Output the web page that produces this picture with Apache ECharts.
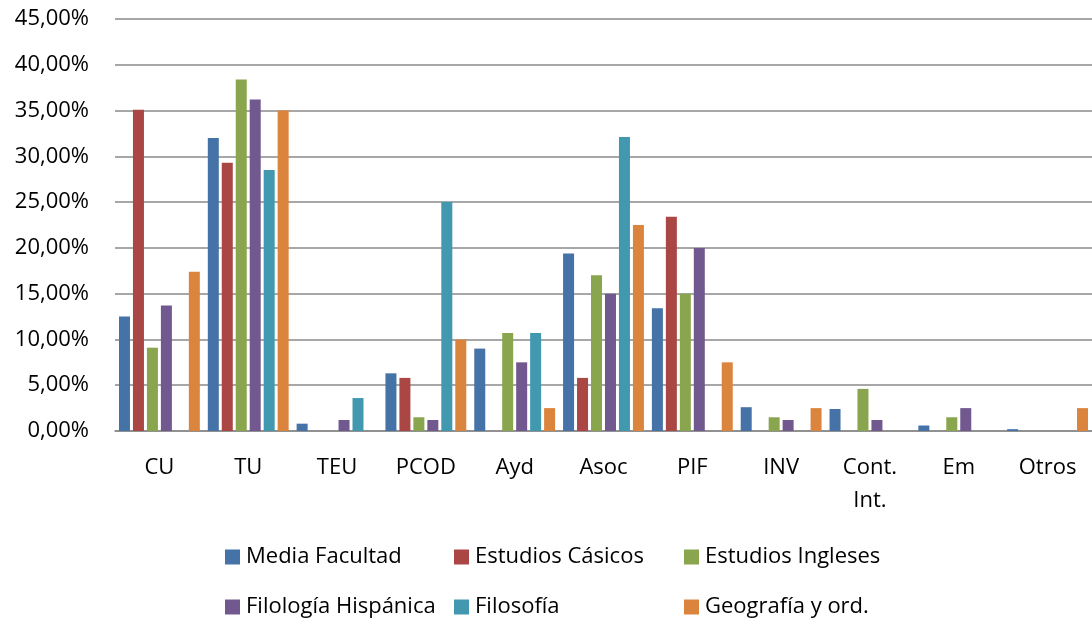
<!DOCTYPE html>
<html>
<head>
<meta charset="utf-8">
<script src="https://cdn.jsdelivr.net/npm/echarts@6/dist/echarts.min.js"></script>
<style>
  html, body { margin: 0; padding: 0; background: #fff; }
  #chart { width: 1092px; height: 619px; }
</style>
</head>
<body>
<div id="chart"></div>
<script>
// categorías del eje X
const categories = ['CU', 'TU', 'TEU', 'PCOD', 'Ayd', 'Asoc', 'PIF', 'INV', 'Cont.\nInt.', 'Em', 'Otros']

// valores en %
const mediaFacultad = [12.5, 32.0, 0.8, 6.3, 9.0, 19.4, 13.4, 2.6, 2.4, 0.6, 0.2]
const estudiosCasicos = [35.1, 29.3, 0, 5.8, 0, 5.8, 23.4, 0, 0, 0, 0]
const estudiosIngleses = [9.1, 38.4, 0, 1.5, 10.7, 17.0, 15.0, 1.5, 4.6, 1.5, 0]
const filologiaHispanica = [13.7, 36.2, 1.2, 1.2, 7.5, 15.0, 20.0, 1.2, 1.2, 2.5, 0]
const filosofia = [0, 28.5, 3.6, 25.0, 10.7, 32.1, 0, 0, 0, 0, 0]
const geografia = [17.4, 35.0, 0, 10.0, 2.5, 22.5, 7.5, 2.5, 0, 0, 2.5]

const seriesNames = ['Media Facultad', 'Estudios Cásicos', 'Estudios Ingleses',
  'Filología Hispánica', 'Filosofía', 'Geografía y ord.']
const seriesData = [mediaFacultad, estudiosCasicos, estudiosIngleses,
  filologiaHispanica, filosofia, geografia]
const colors = ['#4572A7', '#AA4643', '#89A54E', '#71588F', '#4198AF', '#DB843D']

// posiciones de la leyenda (dos filas, tres columnas)
const legendPos = [
  [225, 546], [454, 546], [684, 546],
  [225, 596], [454, 596], [684, 596]
]

const fontFamily = '"Open Sans", sans-serif'
const fontSize = 22

const myChart = echarts.init(document.getElementById('chart'))

const option = {
  animation: false,
  color: colors,
  textStyle: { fontFamily: fontFamily },
  legend: seriesNames.map((name, i) => ({
    left: legendPos[i][0],
    top: legendPos[i][1],
    padding: 0,
    itemWidth: 15,
    itemHeight: 15,
    icon: 'rect',
    data: [name],
    textStyle: { fontSize: fontSize, color: '#000', fontFamily: fontFamily, padding: [0, 0, 0, 1] }
  })),
  grid: {
    left: 115,
    right: 0,
    top: 19,
    bottom: 188,
    containLabel: false
  },
  xAxis: {
    type: 'category',
    data: categories,
    axisLine: { lineStyle: { color: '#8a8a8a', width: 1.5 } },
    axisTick: { show: false },
    axisLabel: {
      color: '#000',
      fontSize: fontSize,
      fontFamily: fontFamily,
      margin: 20,
      lineHeight: 33,
      interval: 0
    }
  },
  yAxis: {
    type: 'value',
    min: 0,
    max: 45,
    interval: 5,
    axisLine: { show: false },
    axisTick: { show: false },
    splitLine: { lineStyle: { color: '#8a8a8a', width: 1.5 } },
    axisLabel: {
      color: '#000',
      fontSize: fontSize,
      fontFamily: fontFamily,
      margin: 26,
      formatter: function (v) {
        return v.toFixed(2).replace('.', ',') + '%'
      }
    }
  },
  series: seriesNames.map((name, i) => ({
    name: name,
    type: 'bar',
    data: seriesData[i],
    barWidth: 11,
    barGap: '27%',
    itemStyle: {
      color: colors[i]
    }
  }))
}

myChart.setOption(option)
</script>
</body>
</html>
